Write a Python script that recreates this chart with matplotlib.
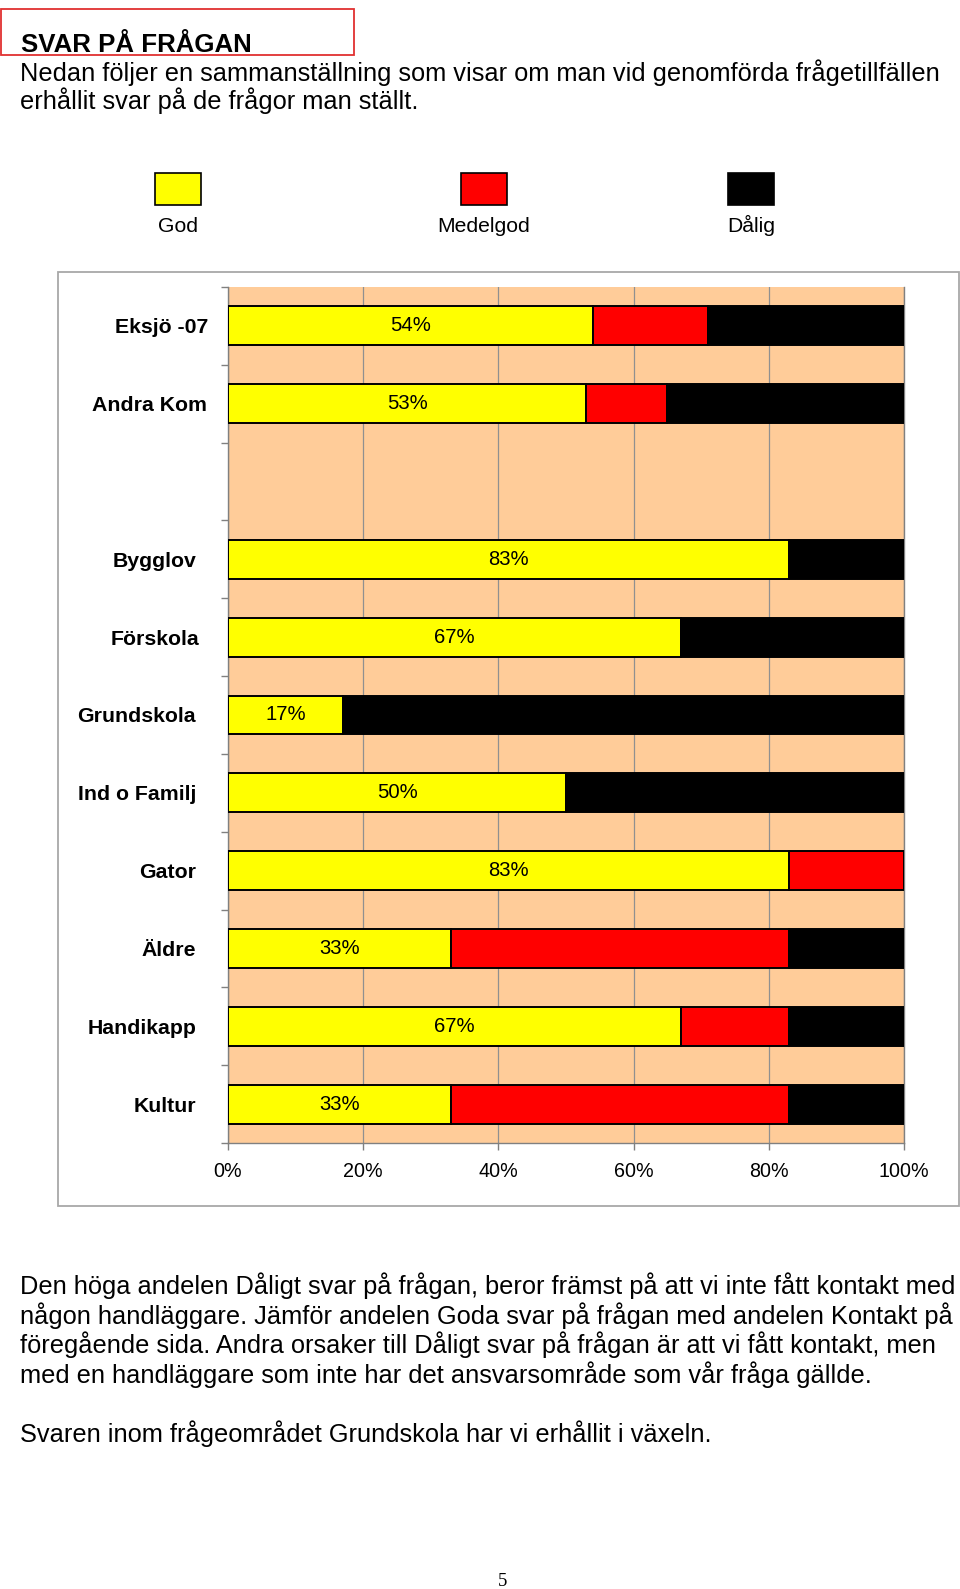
import matplotlib
matplotlib.use("Agg")
import matplotlib.pyplot as plt
from matplotlib.patches import Rectangle
from matplotlib.transforms import ScaledTranslation
import numpy as np

# ---- data ----
categories = ["Eksjö -07", "Andra Kom", "", "Bygglov", "Förskola", "Grundskola",
              "Ind o Familj", "Gator", "Äldre", "Handikapp", "Kultur"]
god      = [54, 53, 0, 83, 67, 17, 50, 83, 33, 67, 33]
medelgod = [17, 12, 0,  0,  0,  0,  0, 17, 50, 16, 50]
dalig    = [29, 35, 0, 17, 33, 83, 50,  0, 17, 17, 17]
series_names = ["God", "Medelgod", "Dålig"]
series_colors = ["#FFFF00", "#FF0000", "#000000"]
xticks = [0, 20, 40, 60, 80, 100]
xticklabels = ["0%", "20%", "40%", "60%", "80%", "100%"]

title = "SVAR PÅ FRÅGAN"
intro_lines = ["Nedan följer en sammanställning som visar om man vid genomförda frågetillfällen",
               "erhållit svar på de frågor man ställt."]
body_lines = ["Den höga andelen Dåligt svar på frågan, beror främst på att vi inte fått kontakt med",
              "någon handläggare. Jämför andelen Goda svar på frågan med andelen Kontakt på",
              "föregående sida. Andra orsaker till Dåligt svar på frågan är att vi fått kontakt, men",
              "med en handläggare som inte har det ansvarsområde som vår fråga gällde."]
last_line = "Svaren inom frågeområdet Grundskola har vi erhållit i växeln."
page_no = "5"

W, H = 960, 1589
plt.rcParams['font.family'] = ['Liberation Sans', 'DejaVu Sans']
fig = plt.figure(figsize=(W / 100, H / 100), dpi=100)
fig.patch.set_facecolor("white")

def fx(x):
    return x / W

def fy(y):
    return 1 - y / H

# ---- header ----
fig.patches.append(Rectangle((fx(1), fy(55)), fx(353), 46 / H, transform=fig.transFigure,
                             fill=False, edgecolor="#E03030", linewidth=1.3))
fig.text(fx(21), fy(52), title, fontsize=18.6, fontweight="bold", va="baseline", ha="left")
fig.text(fx(20), fy(81), intro_lines[0], fontsize=18.3, va="baseline", ha="left")
fig.text(fx(20), fy(109), intro_lines[1], fontsize=18.3, va="baseline", ha="left")

# ---- legend ----
leg_x = [178, 484, 751]
for name, col, cx in zip(series_names, series_colors, leg_x):
    fig.patches.append(Rectangle((fx(cx - 23), fy(205)), 46 / W, 32 / H, transform=fig.transFigure,
                                 facecolor=col, edgecolor="black", linewidth=1.2))
    fig.text(fx(cx), fy(232), name, fontsize=15.2, ha="center", va="baseline")

# ---- chart frame ----
fig.patches.append(Rectangle((fx(58), fy(1206)), (959 - 58) / W, (1206 - 272) / H,
                             transform=fig.transFigure, fill=False, edgecolor="#A8A8A8", linewidth=1.3))

# ---- chart ----
ax_l, ax_r, ax_t, ax_b = 228, 904, 287, 1143
ax = fig.add_axes([fx(ax_l), fy(ax_b), (ax_r - ax_l) / W, (ax_b - ax_t) / H])
ax.set_facecolor("#FFCC99")
n = len(categories)
ypos = np.arange(n)
left = np.zeros(n)
for vals, col in zip([god, medelgod, dalig], series_colors):
    vals = np.array(vals, dtype=float)
    mask = vals > 0
    ax.barh(ypos[mask], vals[mask], left=left[mask], height=0.5, color=col,
            edgecolor="black", linewidth=1.4, zorder=3)
    left += vals
for i, v in enumerate(god):
    if v > 0:
        ax.text(v / 2, ypos[i], f"{v}%", ha="center", va="center", fontsize=14.6, zorder=4)

ax.set_xlim(0, 100)
ax.set_ylim(n - 0.5, -0.5)
ax.set_xticks(xticks)
ax.set_xticklabels(xticklabels, fontsize=14.2)
ax.set_yticks(ypos)
ax.set_yticklabels(categories, fontsize=15.3, fontweight="bold")
ax.set_yticks(np.arange(-0.5, n, 1), minor=True)
ax.tick_params(axis="y", which="major", length=0, pad=23)
ax.tick_params(axis="y", which="minor", length=5, color="#808080", width=1)
ax.tick_params(axis="x", which="major", length=5, color="#808080", width=1, pad=9)
ax.xaxis.grid(True, color="#909090", linewidth=0.9, zorder=1)
ax.set_axisbelow(True)
ax.spines["top"].set_visible(False)
for s in ["left", "bottom", "right"]:
    ax.spines[s].set_color("#808080")
    ax.spines[s].set_linewidth(1)

# small per-label horizontal nudges (pixels) to mimic the original's label placement
label_dx = [12, 11, 0, 0, 3, 0, 0, 0, 0, 0, 0]
for lab, dx in zip(ax.get_yticklabels(), label_dx):
    lab.set_transform(lab.get_transform() + ScaledTranslation(dx / 100, 0, fig.dpi_scale_trans))

# ---- body text ----
ys = [1294, 1324, 1353, 1383]
for y, line in zip(ys, body_lines):
    fig.text(fx(20), fy(y), line, fontsize=18.3, va="baseline", ha="left")
fig.text(fx(20), fy(1442), last_line, fontsize=18.3, va="baseline", ha="left")
fig.text(fx(503), fy(1586), page_no, fontsize=13.5, family="Liberation Serif", ha="center", va="baseline")

fig.savefig("out.png", dpi=100)
